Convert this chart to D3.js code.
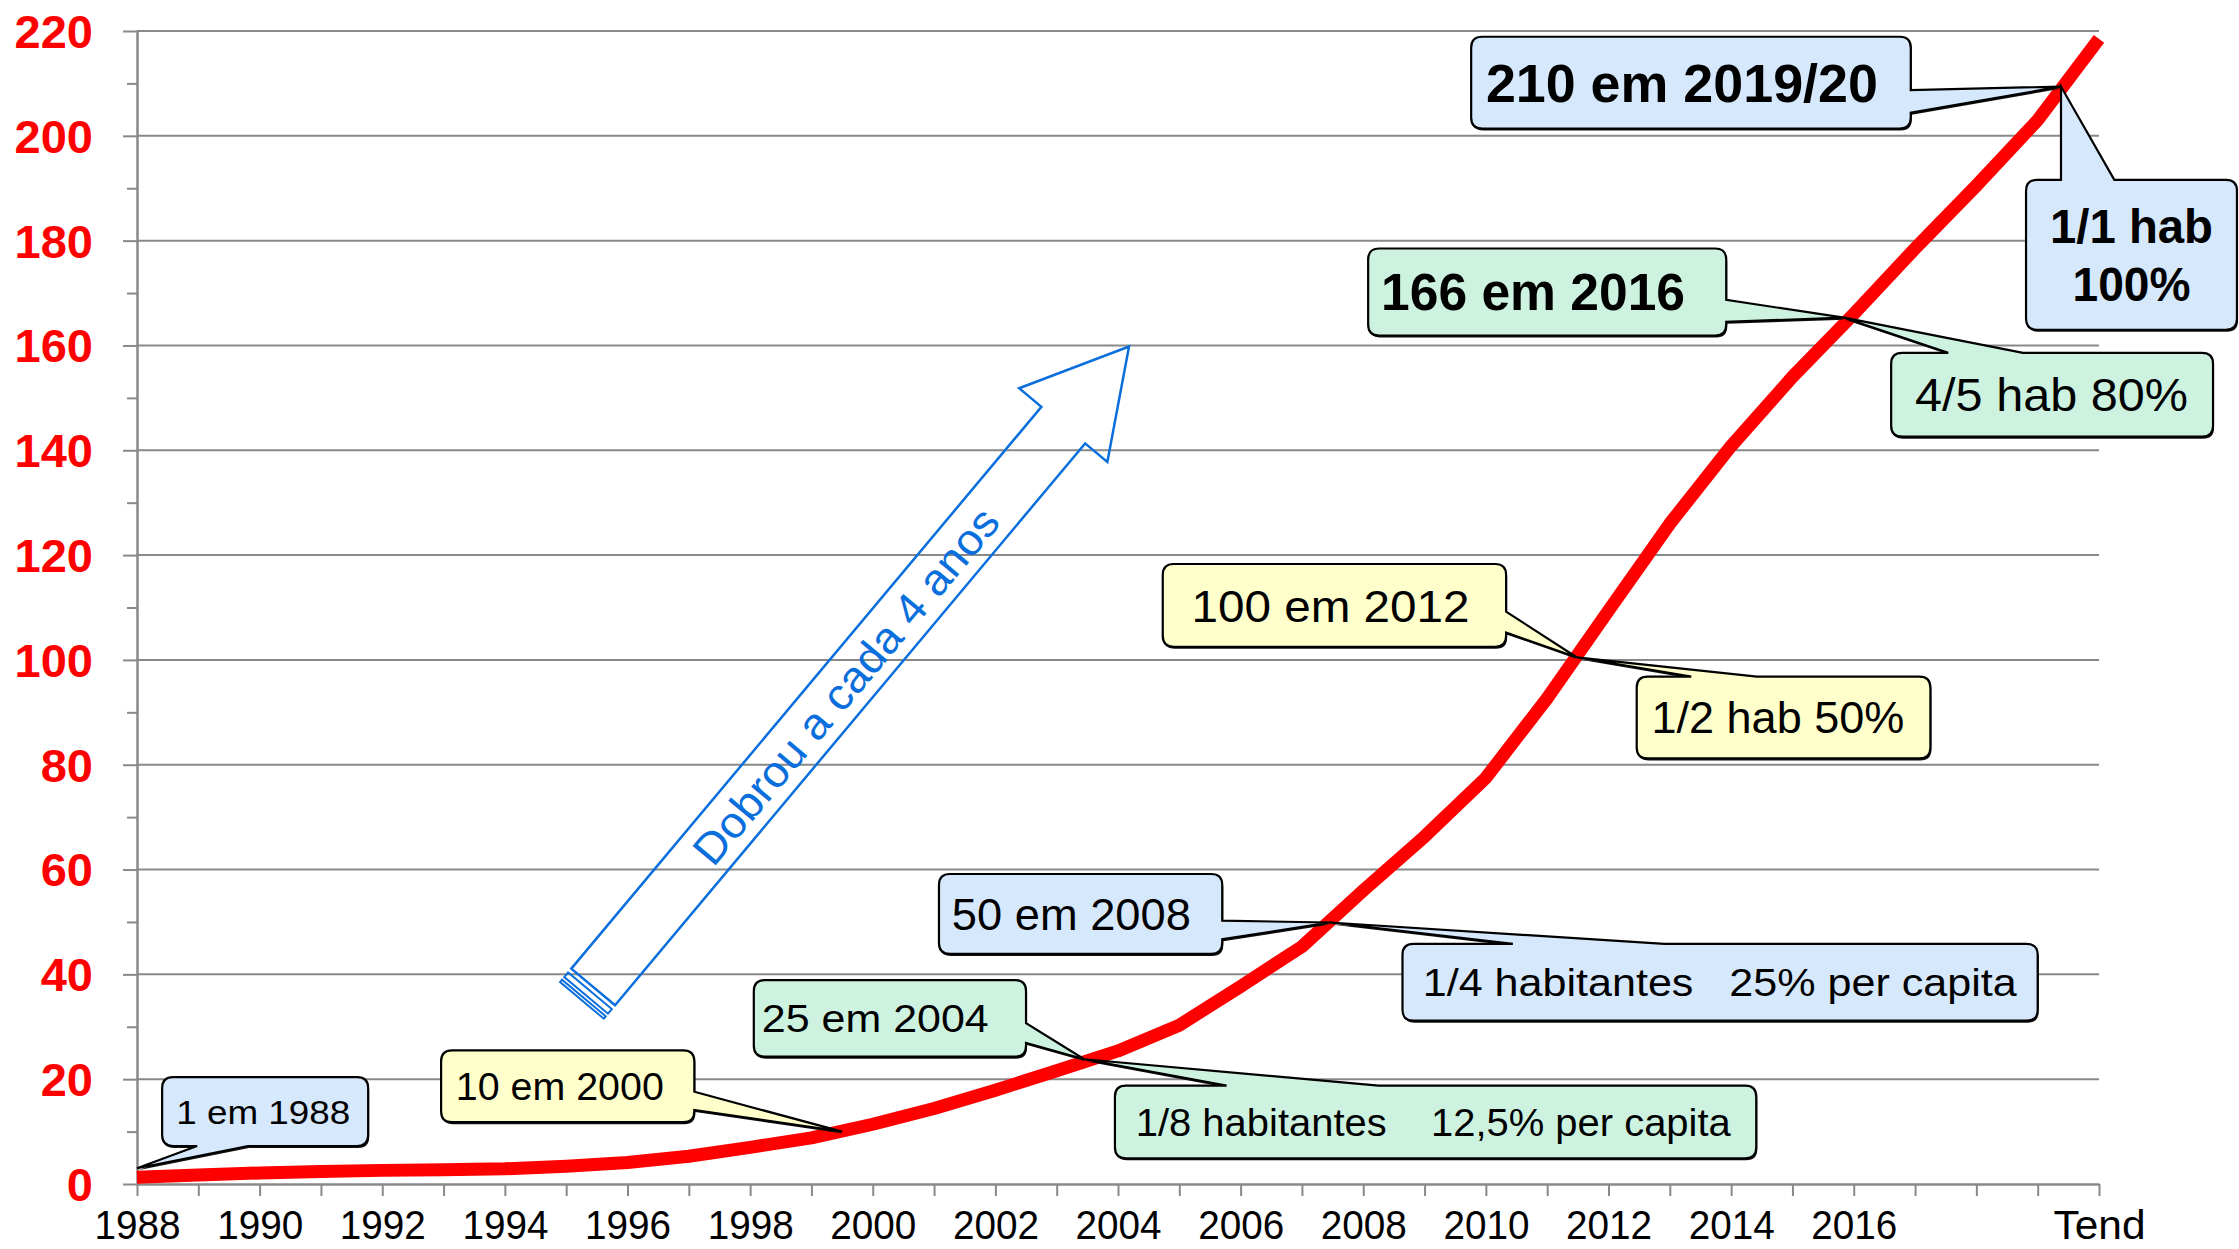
<!DOCTYPE html>
<html><head><meta charset="utf-8">
<script src="https://cdn.jsdelivr.net/npm/d3@7"></script>
<style>
html,body{margin:0;padding:0;background:#fff;}
svg{display:block;}
text{font-family:"Liberation Sans",Arial,Helvetica,sans-serif;}
</style></head><body>
<svg id="chart" width="2239" height="1249"></svg>
<script>
// ---------- data ----------
const categories = ["1988","1989","1990","1991","1992","1993","1994","1995","1996","1997","1998","1999",
  "2000","2001","2002","2003","2004","2005","2006","2007","2008","2009","2010","2011","2012","2013",
  "2014","2015","2016","2017","2018","2019","Tend"];
const values = [1.3,1.7,2.1,2.4,2.6,2.7,2.9,3.4,4.1,5.3,7.0,8.8,
  11.4,14.4,17.9,21.6,25.4,30.3,37.7,45.3,56.0,66.3,77.5,92.7,109.4,126.0,
  140.8,154.0,166.0,178.5,190.5,203.0,218.5];
const xTickLabels = ["1988","","1990","","1992","","1994","","1996","","1998","",
  "2000","","2002","","2004","","2006","","2008","","2010","","2012","",
  "2014","","2016","","","","Tend"];
const yTicks = [0,20,40,60,80,100,120,140,160,180,200,220];
const yMinorTicks = [10,30,50,70,90,110,130,150,170,190,210];

// annotation texts
const calloutTexts = [
  ["1 em 1988"], ["10 em 2000"], ["25 em 2004"], ["1/8 habitantes    12,5% per capita"],
  ["50 em 2008"], ["1/4 habitantes   25% per capita"], ["100 em 2012"], ["1/2 hab 50%"],
  ["166 em 2016"], ["4/5 hab 80%"], ["210 em 2019/20"], ["1/1 hab","100%"]
];
const arrowText = "Dobrou a cada 4 anos";

// annotation layout (in data units: year / value)
const calloutLayout = [
  {fill:"blue",  bold:false, fs:34, tl:[174], box:[1988.41,1991.77,20.4,7.25], tx:1988.64, side:"bottom", base:[1988.98,1989.81], tip:[1988.0,3.0]},
  {fill:"yellow",bold:false, fs:39, tl:[208], box:[1992.96,1997.09,25.5,11.8], tx:1993.20, side:"right", base:[17.6,14.1], tip:[1999.5,10.0]},
  {fill:"green", bold:false, fs:39, tl:[227], box:[1998.06,2002.50,38.9,24.3], tx:1998.19, side:"right", base:[30.7,26.9], tip:[2003.45,23.8]},
  {fill:"green", bold:false, fs:38, tl:[595], box:[2003.95,2014.41,18.76,4.9], tx:2004.29, side:"top", base:[2005.77,2008.25], tip:[2003.45,23.8]},
  {fill:"blue",  bold:false, fs:44, tl:[239], box:[2001.08,2005.70,59.15,43.9], tx:2001.29, side:"right", base:[50.24,46.69], tip:[2007.45,49.9]},
  {fill:"blue",  bold:false, fs:38, tl:[594], box:[2008.64,2019.0,45.8,31.16], tx:2008.97, side:"top", base:[2010.44,2012.91], tip:[2007.45,49.9]},
  {fill:"yellow",bold:false, fs:45, tl:[278], box:[2004.73,2010.33,118.3,102.5], tx:2005.20, side:"right", base:[109.2,105.2], tip:[2011.48,100.5]},
  {fill:"yellow",bold:false, fs:44, tl:[253], box:[2012.46,2017.25,96.8,81.2], tx:2012.70, side:"top", base:[2013.35,2014.42], tip:[2011.48,100.5]},
  {fill:"green", bold:true,  fs:51, tl:[304], box:[2008.08,2013.92,178.5,161.9], tx:2008.29, side:"right", base:[168.7,164.5], tip:[2015.84,165.3]},
  {fill:"green", bold:false, fs:46, tl:[273], box:[2016.61,2021.86,158.6,142.6], tx:2017.0, side:"top", base:[2017.54,2018.76], tip:[2015.84,165.3]},
  {fill:"blue",  bold:true,  fs:53, tl:[392], box:[2009.76,2016.93,218.9,201.4], tx:2010.0, side:"right", base:[208.7,204.4], tip:[2019.38,209.4]},
  {fill:"blue",  bold:true,  fs:48, tl:[163,118], box:[2018.81,2022.25,191.6,163.0], center:true, side:"top", base:[2019.38,2020.25], tip:[2019.38,209.4]}
];
const arrowTail = [1995.44, 37.6];
const arrowTip  = [2004.18, 159.8];

const fills = {blue:"#d6e8fc", yellow:"#ffffcc", green:"#cdf3e0"};
const gray = "#898989";

// ---------- chart ----------
const svg = d3.select("#chart");
const x = d3.scalePoint().domain(categories).range([137, 2099]);
const xi = d3.scaleLinear().domain([1988, 2020]).range([137, 2099]);
const y = d3.scaleLinear().domain([0, 220]).range([1184, 31]);

// gridlines
svg.append("g").selectAll("line").data(yTicks.filter(v => v > 0)).join("line")
  .attr("x1", x.range()[0]).attr("x2", x.range()[1])
  .attr("y1", d => y(d)).attr("y2", d => y(d))
  .attr("stroke", gray).attr("stroke-width", 2);

// y axis
const gy = svg.append("g").attr("transform", `translate(${x.range()[0]},0)`)
  .call(d3.axisLeft(y).tickValues(yTicks).tickSize(14).tickPadding(30).tickSizeOuter(0));
gy.select(".domain").attr("stroke", gray).attr("stroke-width", 2.5);
gy.selectAll(".tick line").attr("stroke", gray).attr("stroke-width", 2);
gy.selectAll(".tick text").attr("fill", "#ff0000").attr("font-weight", "bold")
  .attr("font-size", 47).attr("font-family", '"Liberation Sans",Arial,sans-serif').attr("dy", "0.35em");

const gym = svg.append("g").attr("transform", `translate(${x.range()[0]},0)`)
  .call(d3.axisLeft(y).tickValues(yMinorTicks).tickSize(10).tickFormat(""));
gym.select(".domain").remove();
gym.selectAll(".tick line").attr("stroke", gray).attr("stroke-width", 2);

// x axis
const gx = svg.append("g").attr("transform", `translate(0,${y(0)})`)
  .call(d3.axisBottom(x).tickSize(12).tickPadding(15).tickSizeOuter(0)
    .tickFormat((d, i) => xTickLabels[i]));
gx.select(".domain").attr("stroke", gray).attr("stroke-width", 2.5);
gx.selectAll(".tick line").attr("stroke", gray).attr("stroke-width", 2);
gx.selectAll(".tick text").attr("fill", "#000").attr("font-size", 40)
  .attr("font-family", '"Liberation Sans",Arial,sans-serif')
  .each(function(d, i) {
    const t = xTickLabels[i];
    if (t) d3.select(this).attr("textLength", t === "Tend" ? 92 : 86).attr("lengthAdjust", "spacingAndGlyphs");
  });

// red line
const line = d3.line().x((d, i) => x(categories[i])).y(d => y(d));
svg.append("path").datum(values)
  .attr("d", line).attr("fill", "none").attr("stroke", "#ff0000")
  .attr("stroke-width", 13).attr("stroke-linejoin", "round");

// blue block arrow
(function() {
  const T = [xi(arrowTail[0]), y(arrowTail[1])], P = [xi(arrowTip[0]), y(arrowTip[1])];
  const dx = P[0] - T[0], dy = P[1] - T[1], L = Math.hypot(dx, dy);
  const u = [dx / L, dy / L], n = [-u[1], u[0]];
  const pt = (a, p) => [P[0] + u[0] * a + n[0] * p, P[1] + u[1] * a + n[1] * p];
  const hw = 28.5, hl = 102.5, hb = 57.5;
  const poly = [pt(-L, -hw), pt(-hl, -hw), pt(-hl, -hb), pt(0, 0), pt(-hl, hb), pt(-hl, hw), pt(-L, hw)];
  const col = "#0a6fdc";
  const g = svg.append("g");
  g.append("path").attr("d", "M" + poly.map(p => p.join(",")).join("L") + "Z")
    .attr("fill", "none").attr("stroke", col).attr("stroke-width", 2.5).attr("stroke-linejoin", "miter");
  [[-L - 17.5, -L - 14.5], [-L - 11, -L - 5]].forEach(([a0, a1]) => {
    const r = [pt(a0, -hw), pt(a1, -hw), pt(a1, hw), pt(a0, hw)];
    g.append("path").attr("d", "M" + r.map(p => p.join(",")).join("L") + "Z")
      .attr("fill", "none").attr("stroke", col).attr("stroke-width", 2);
  });
  const ang = Math.atan2(u[1], u[0]) * 180 / Math.PI;
  const c = pt(-L + 393, 0);
  g.append("text").attr("transform", `translate(${c[0]},${c[1]}) rotate(${ang})`)
    .attr("text-anchor", "middle").attr("y", 0.36 * 44).attr("font-size", 44)
    .attr("fill", col).attr("textLength", 450).attr("lengthAdjust", "spacingAndGlyphs")
    .text(arrowText);
})();

// callouts
function calloutPath(c) {
  const x0 = xi(c.box[0]), x1 = xi(c.box[1]), y0 = y(c.box[2]), y1 = y(c.box[3]);
  const r = 11, tx = xi(c.tip[0]), ty = y(c.tip[1]);
  let p = `M${x0 + r},${y0}`;
  if (c.side === "top") p += `L${xi(c.base[0])},${y0}L${tx},${ty}L${xi(c.base[1])},${y0}`;
  p += `L${x1 - r},${y0}Q${x1},${y0} ${x1},${y0 + r}`;
  if (c.side === "right") p += `L${x1},${y(c.base[0])}L${tx},${ty}L${x1},${y(c.base[1])}`;
  p += `L${x1},${y1 - r}Q${x1},${y1} ${x1 - r},${y1}`;
  if (c.side === "bottom") p += `L${xi(c.base[1])},${y1}L${tx},${ty}L${xi(c.base[0])},${y1}`;
  p += `L${x0 + r},${y1}Q${x0},${y1} ${x0},${y1 - r}L${x0},${y0 + r}Q${x0},${y0} ${x0 + r},${y0}Z`;
  return p;
}
const gc = svg.append("g");
calloutLayout.forEach((c, k) => {
  const d = calloutPath(c);
  gc.append("path").attr("d", d).attr("fill", "#111").attr("transform", "translate(1,2)");
  gc.append("path").attr("d", d).attr("fill", fills[c.fill]).attr("stroke", "#000")
    .attr("stroke-width", 2.2).attr("stroke-linejoin", "miter");
  const lines = calloutTexts[k];
  const cy = (y(c.box[2]) + y(c.box[3])) / 2;
  const lh = c.fs * 1.22;
  lines.forEach((t, j) => {
    const base = cy - (lines.length - 1) * lh / 2 + j * lh + 0.358 * c.fs;
    const tx = c.center ? (xi(c.box[0]) + xi(c.box[1])) / 2 : xi(c.tx);
    gc.append("text").attr("x", tx).attr("y", base)
      .attr("text-anchor", c.center ? "middle" : "start")
      .attr("font-size", c.fs).attr("font-weight", c.bold ? "bold" : "normal")
      .attr("fill", "#000").style("white-space", "pre")
      .attr("textLength", c.tl[j]).attr("lengthAdjust", "spacingAndGlyphs")
      .text(t);
  });
});
</script>
</body></html>
